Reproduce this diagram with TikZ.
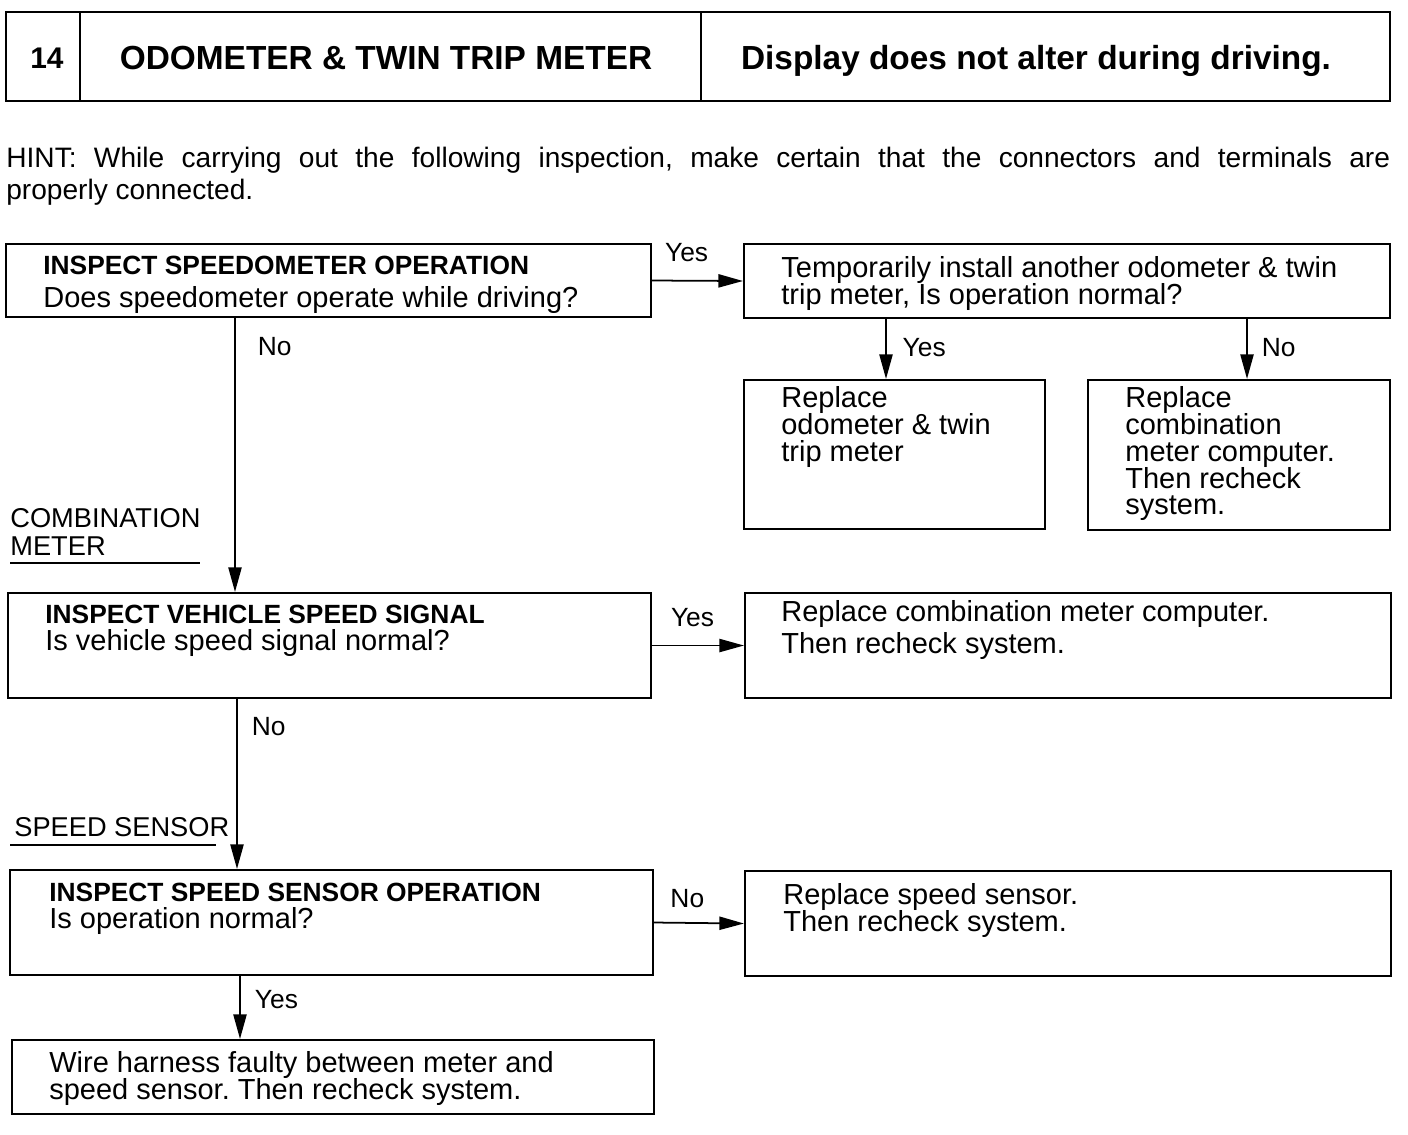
\documentclass[tikz,border=0pt]{standalone}
\usepackage{fontspec}
\setmainfont{Liberation Sans}
\usetikzlibrary{arrows.meta,fit,positioning}

\newcommand\boxhead[1]{{\fontsize{15}{15.3}\selectfont\bfseries #1}}
\frenchspacing
\setlength{\lineskiplimit}{-8pt}

\begin{document}
\begin{tikzpicture}[x=0.02cm,y=-0.02cm,
    box/.style={draw,line width=1.2pt,inner sep=0pt},
    head/.style={anchor=base,inner sep=0pt,font=\fontsize{19}{19}\selectfont\bfseries},
    flow/.style={line width=1pt,-{Triangle[length=14pt,width=7.5pt]}},
    ans/.style={inner sep=0pt,font=\fontsize{15}{15}\selectfont}]
    \tikzstyle{txt}=[anchor=north west,inner sep=0pt,align=left,font=\fontsize{16.5}{15.3}\selectfont]
    \useasboundingbox (0,0) rectangle (1408,1134);

    \node[box,fit={(6,12) (80,101)}] (num) {};
    \node[box,fit={(80,12) (701,101)}] (title) {};
    \node[box,fit={(701,12) (1390,101)}] (symptom) {};
    \node[head,font=\fontsize{17}{17}\selectfont\bfseries] (num-txt) at (47,68) {14};
    \node[head] (title-txt) at (386,69) {ODOMETER \& TWIN TRIP METER};
    \node[head] (symptom-txt) at (1036,69) {Display does not alter during driving.};

    \node[txt,text width=27.68cm,align=justify,font=\fontsize{16}{18}\selectfont] (hint) at (6,147)
      {\noindent HINT: While carrying out the following inspection, make certain that the connectors and terminals are\linebreak properly connected.};

    \node[box,fit={(6,244) (651,317)}] (speedo) {};
    \node[txt] (speedo-txt) at (43,255.5) {\boxhead{INSPECT SPEEDOMETER OPERATION}\\[3.5pt]Does speedometer operate while driving?};

    \node[box,fit={(744,244) (1390,318)}] (install) {};
    \node[txt] (install-txt) at (781,256) {Temporarily install another odometer \& twin\\trip meter, Is operation normal?};

    \node[box,fit={(744,380) (1045,529)}] (trip) {};
    \node[txt] (trip-txt) at (781,386) {Replace\\odometer \& twin\\trip meter};

    \node[box,fit={(1088,380) (1390,530)}] (computer) {};
    \node[txt] (computer-txt) at (1125,386) {Replace\\combination\\meter computer.\\Then recheck\\system.};

    \node[box,fit={(8,593) (651,698)}] (signal) {};
    \node[txt] (signal-txt) at (45,604.5) {\boxhead{INSPECT VEHICLE SPEED SIGNAL}\\Is vehicle speed signal normal?};

    \node[box,fit={(745,593) (1391,698)}] (meter) {};
    \node[txt] (meter-txt) at (781,600) {Replace combination meter computer.\\[2.7pt]Then recheck system.};

    \node[box,fit={(10,870) (653,975)}] (sensor) {};
    \node[txt] (sensor-txt) at (49,882.5) {\boxhead{INSPECT SPEED SENSOR OPERATION}\\Is operation normal?};

    \node[box,fit={(745,871) (1391,976)}] (newsensor) {};
    \node[txt] (newsensor-txt) at (783,883) {Replace speed sensor.\\Then recheck system.};

    \node[box,fit={(12,1040) (654,1114)}] (harness) {};
    \node[txt] (harness-txt) at (49,1051) {Wire harness faulty between meter and\\speed sensor. Then recheck system.};

    \node[txt,font=\fontsize{15.5}{15.9}\selectfont] (combo) at (10,508) {COMBINATION\\METER};
    \draw[line width=1pt] (10,563) -- (200,563);
    \node[txt,font=\fontsize{15.5}{15.9}\selectfont] (spd) at (14,817) {SPEED SENSOR};
    \draw[line width=1pt] (10,845) -- (216,845);

    \draw[flow] (speedo.east) -- node[ans,pos=.38,above=10pt] (yes1) {Yes} (install.west);
    \draw[flow] (install.south -| 886,0) -- node[ans,pos=.48,right=9pt] (yes2) {Yes} (trip.north -| 886,0);
    \draw[flow] (install.south -| 1247,0) -- node[ans,pos=.48,right=8pt] (no1) {No} (computer.north -| 1247,0);
    \draw[flow] (speedo.south -| 235,0) -- node[ans,pos=.105,right=12.5pt] (no2) {No} (signal.north -| 235,0);
    \draw[flow] (signal.east) -- node[ans,pos=.44,above=10pt] (yes3) {Yes} (meter.west);
    \draw[flow] (signal.south -| 237,0) -- node[ans,pos=.163,right=8pt] (no3) {No} (sensor.north -| 237,0);
    \draw[flow] (sensor.east) -- node[ans,pos=.37,above=8pt] (no4) {No} (newsensor.west);
    \draw[flow] (sensor.south -| 240,0) -- node[ans,pos=.37,right=8pt] (yes4) {Yes} (harness.north -| 240,0);

  \end{tikzpicture}
\end{document}
